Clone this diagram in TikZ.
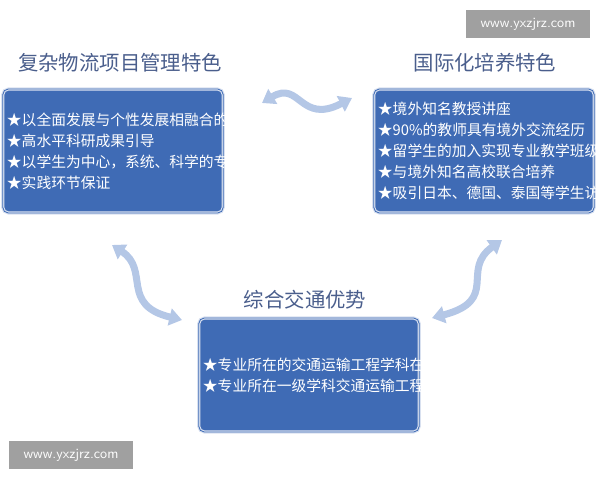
\documentclass[tikz,border=0pt]{standalone}
\usepackage{fontspec}
\setmainfont{Liberation Serif}
\newfontfamily\cjk{Noto Sans CJK SC}
\usetikzlibrary{arrows.meta,positioning}
\definecolor{boxblue}{HTML}{3F6BB5}
\definecolor{titleblue}{HTML}{4A5E8C}
\definecolor{arrowblue}{HTML}{B4C7E6}
\definecolor{markgray}{HTML}{A0A0A0}

\begin{document}
\begin{tikzpicture}[x=0.025cm, y=-0.025cm,% styles used in image code
   > = {Triangle[length=9pt, width=12pt]},
 panel/.style = {draw=white!80!boxblue, line width=0.8pt, fill=boxblue,
                 double=boxblue, text=white, rounded corners=4pt,
                 text width=5.3cm, align=left, inner sep=3pt,
                 font=\cjk\fontsize{10.5}{14.9}\selectfont},
 heading/.style = {text=titleblue, font=\cjk\fontsize{14.5}{16}\selectfont},
 swoop/.style = {<->, arrowblue, line width=5pt},
 watermark/.style = {fill=markgray, text=white, minimum width=3.08cm,
                minimum height=0.68cm, font=\sffamily\fontsize{10}{12}\selectfont}
                      ]
	\useasboundingbox (0,0) rectangle (600,480);
	% panels
	\node[panel, minimum height=3.1cm] (left) at (113,151)
	  {★以全面发展与个性发展相融合的拔尖创新人才培养体系为支撑\\
	   ★高水平科研成果引导\\
	   ★以学生为中心，系统、科学的专业培养计划为抓手\\
	   ★实践环节保证};
	\node[panel, minimum height=3.1cm] (right) at (484,151)
	  {★境外知名教授讲座\\
	   ★90\%的教师具有境外交流经历\\
	   ★留学生的加入实现专业教学班级国际化\\
	   ★与境外知名高校联合培养\\
	   ★吸引日本、德国、泰国等学生访学};
	\node[panel, minimum height=2.85cm] (bottom) at (309,375)
	  {★专业所在的交通运输工程学科在全国第四轮学科评估中被评为A+\\
	   ★专业所在一级学科交通运输工程在中国软科发布的“2020软科中国最好学科排名”中位居全国第2名};
	% titles
	\node[heading] (lefttitle) at (120,63) {复杂物流项目管理特色};
	\node[heading] (righttitle) at (485,63) {国际化培养特色};
	\node[heading] (bottomtitle) at (305,300) {综合交通优势};
	% curved arrows
	\coordinate (topa) at (262,103);
	\coordinate (topb) at (352,98);
	\coordinate (lefta) at (112,245);
	\coordinate (leftb) at (182,320);
	\coordinate (righta) at (502,240);
	\coordinate (rightb) at (432,318);
	\draw[swoop] (topa) .. controls (300,80) and (300,125) .. (topb);
	\draw[swoop] (lefta) .. controls (150,270) and (120,305) .. (leftb);
	\draw[swoop] (righta) .. controls (460,270) and (500,300) .. (rightb);
	% watermarks
	\node[watermark] (markA) at (528,24) {www.yxzjrz.com};
	\node[watermark] (markB) at (71,455) {www.yxzjrz.com};
\end{tikzpicture}
\end{document}
